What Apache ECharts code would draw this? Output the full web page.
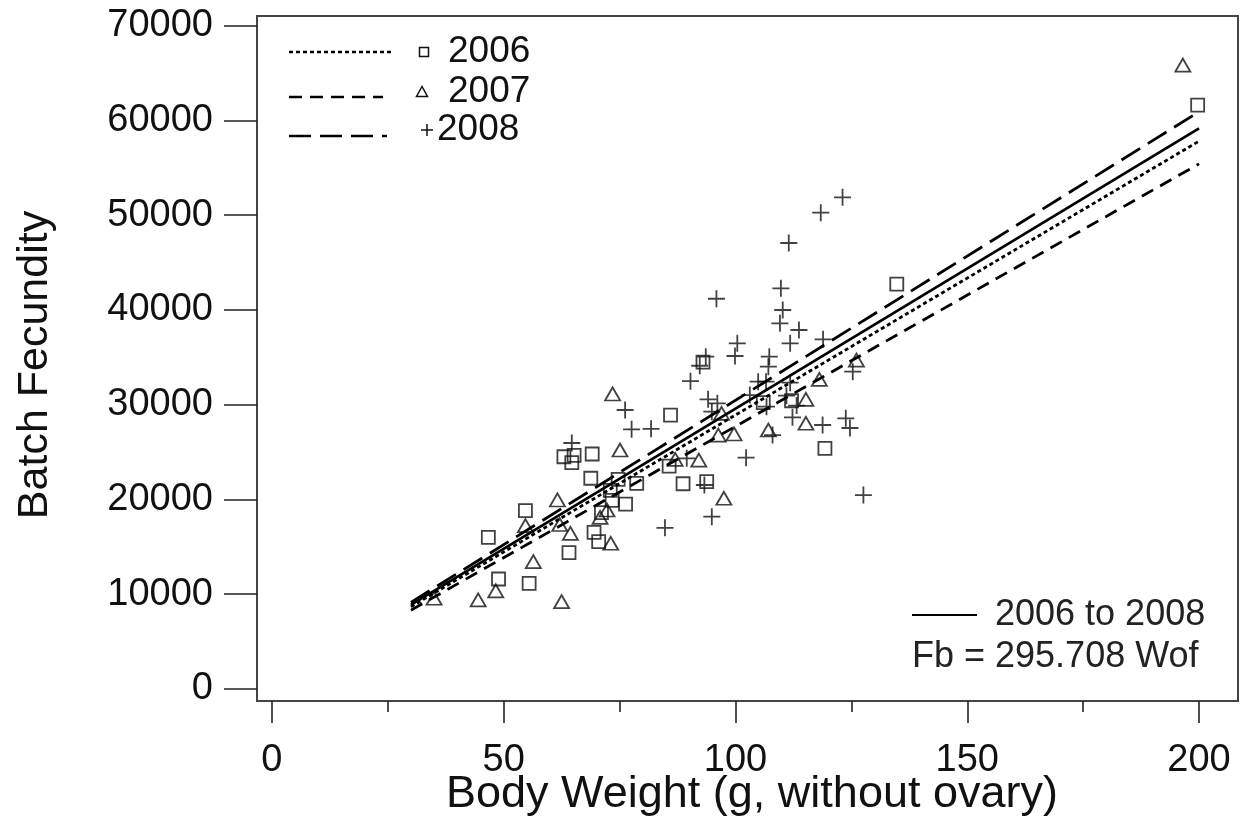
<!DOCTYPE html>
<html>
<head>
<meta charset="utf-8">
<script src="https://cdn.jsdelivr.net/npm/echarts@6/dist/echarts.min.js"></script>
<style>
  html, body { margin: 0; padding: 0; background: #fff; }
  #chart { width: 1248px; height: 825px; }
</style>
</head>
<body>
<div id="chart"></div>
<script>
// Body weight (g, without ovary) and batch fecundity, by sampling year
const fish2006 = [
  [63.0, 24500], [65.2, 24650], [64.7, 23870], [69.1, 24790], [86.0, 28900],
  [68.8, 22230], [74.7, 22120], [78.7, 21700], [88.7, 21650], [73.0, 20950],
  [73.4, 19900], [76.3, 19510], [71.1, 18600], [54.7, 18810], [69.5, 16530],
  [70.5, 15540], [46.7, 16000], [64.1, 14380], [48.9, 11600], [55.5, 11150],
  [134.8, 42720], [93.0, 34490], [106.0, 30200], [112.1, 30410], [119.3, 25390],
  [85.7, 23520], [93.8, 21870], [199.7, 61600]
];
const fish2007 = [
  [73.5, 31120], [75.1, 25210], [61.6, 19940], [72.3, 18880], [70.8, 18110],
  [54.7, 17230], [62.1, 17350], [64.4, 16420], [73.1, 15370], [56.4, 13430],
  [48.3, 10340], [44.5, 9390], [62.5, 9210], [35.0, 9570], [126.1, 34700],
  [118.1, 32670], [97.0, 29080], [115.2, 30560], [115.2, 28030], [107.1, 27320],
  [96.3, 26790], [99.7, 26900], [92.1, 24150], [87.0, 24230], [97.5, 20120],
  [196.5, 65820]
];
const fish2008 = [
  [76.2, 29430], [77.6, 27390], [81.8, 27450], [64.7, 25950], [84.8, 17000],
  [123.1, 51870], [118.4, 50250], [111.5, 47050], [95.9, 41170], [109.8, 42270],
  [110.2, 39980], [109.6, 38580], [113.7, 37870], [111.8, 36470], [118.9, 36890],
  [100.4, 36470], [99.9, 35130], [93.6, 35060], [92.3, 34100], [90.3, 32470],
  [107.3, 35060], [107.1, 34000], [125.3, 33470], [104.9, 32420], [106.6, 32420],
  [111.8, 32310], [94.1, 30560], [96.1, 30140], [94.9, 29250], [103.1, 31010],
  [111.0, 30940], [113.2, 29900], [106.7, 29780], [112.3, 28660], [118.8, 27850],
  [123.8, 28550], [124.7, 27530], [108.0, 26790], [102.3, 24400], [89.5, 24330],
  [93.3, 21520], [94.9, 18180], [127.6, 20460]
];

// Regression slopes (fecundity per gram, through the origin)
const slopeNames = ['2006', '2007', '2008', '2006 to 2008'];
const slopes = [289.0, 277.0, 304.5, 295.708];
const fitRange = [30, 200];

// Axis ticks
const xMajorTicks = [0, 50, 100, 150, 200];
const xMinorTicks = [25, 75, 125, 175];
const yTicks = [0, 10000, 20000, 30000, 40000, 50000, 60000, 70000];

const FONT = '"Liberation Sans", Arial, sans-serif';
const INK = '#111';
const MARK = '#111';

const lineDash = [[4, 3], [13, 8], [22, 9], null];

function fitLine(slope) {
  return fitRange.map(function (w) { return [w, w * slope]; });
}

const markerStyle = {
  color: 'rgba(0,0,0,0)',
  borderColor: MARK,
  borderWidth: 1.8
};

const plusPath = 'path://M0,8 L16,8 M8,0 L8,16';

const series = [
  {
    name: '2006', type: 'scatter', data: fish2006,
    symbol: 'rect', symbolSize: [13, 13],
    itemStyle: markerStyle, z: 3
  },
  {
    name: '2007', type: 'scatter', data: fish2007,
    symbol: 'triangle', symbolSize: [15, 13],
    itemStyle: markerStyle, z: 3
  },
  {
    name: '2008', type: 'scatter', data: fish2008,
    symbol: plusPath, symbolSize: [17, 17],
    itemStyle: { color: 'rgba(0,0,0,0)', borderColor: MARK, borderWidth: 1.8 }, z: 3
  }
];

slopes.forEach(function (b, i) {
  series.push({
    name: slopeNames[i] + ' fit',
    type: 'line',
    data: fitLine(b),
    showSymbol: false,
    symbol: 'none',
    silent: true,
    lineStyle: {
      color: '#000',
      width: 2.8,
      type: lineDash[i] || 'solid'
    },
    z: 4
  });
});

// Legend sample lines, markers and the pooled-fit note
const graphic = [];
const legendRows = [
  { y: 52, ty: 52, x2: 394, dash: lineDash[0], label: '2006', tx: 448, mx: 424 },
  { y: 97, ty: 92, x2: 383, dash: lineDash[1], label: '2007', tx: 448, mx: 422 },
  { y: 136, ty: 130, x2: 387, dash: lineDash[2], label: '2008', tx: 437, mx: 427 }
];
legendRows.forEach(function (r, i) {
  graphic.push({
    type: 'line', z: 10,
    shape: { x1: 289, y1: r.y, x2: r.x2, y2: r.y },
    style: { stroke: '#000', lineWidth: 2.6, lineDash: r.dash }
  });
  let marker;
  if (i === 0) {
    marker = { type: 'rect', shape: { x: r.mx - 4.5, y: r.ty - 4.5, width: 9, height: 9 } };
  } else if (i === 1) {
    marker = { type: 'polygon', shape: { points: [[r.mx, r.ty - 5.5], [r.mx - 5.5, r.ty + 4.5], [r.mx + 5.5, r.ty + 4.5]] } };
  } else {
    marker = { type: 'polyline', shape: { points: [[r.mx - 6, r.ty], [r.mx + 6, r.ty]] } };
    graphic.push({
      type: 'polyline', z: 10,
      shape: { points: [[r.mx, r.ty - 6], [r.mx, r.ty + 6]] },
      style: { stroke: MARK, lineWidth: 1.5, fill: null }
    });
  }
  marker.z = 10;
  marker.style = { stroke: MARK, lineWidth: 1.5, fill: null };
  graphic.push(marker);
  graphic.push({
    type: 'text', z: 10, x: r.tx, y: r.ty,
    style: { text: r.label, font: '37px ' + FONT, fill: INK, textAlign: 'left', textVerticalAlign: 'middle' }
  });
});

graphic.push({
  type: 'line', z: 10,
  shape: { x1: 912, y1: 615, x2: 977, y2: 615 },
  style: { stroke: '#000', lineWidth: 2.2 }
});
graphic.push({
  type: 'text', z: 10, x: 995, y: 615,
  style: { text: '2006 to 2008', font: '36px ' + FONT, fill: '#222', textAlign: 'left', textVerticalAlign: 'middle' }
});
graphic.push({
  type: 'text', z: 10, x: 912, y: 657,
  style: { text: 'Fb = ' + slopes[3].toFixed(3) + ' Wof', font: '36px ' + FONT, fill: '#222', textAlign: 'left', textVerticalAlign: 'middle' }
});

// Axis titles
graphic.push({
  type: 'text', z: 10, x: 752, y: 795,
  style: { text: 'Body Weight (g, without ovary)', font: '45px ' + FONT, fill: INK, textAlign: 'center', textVerticalAlign: 'middle' }
});
graphic.push({
  type: 'text', z: 10, x: 35, y: 365, rotation: Math.PI / 2,
  style: { text: 'Batch Fecundity', font: '43px ' + FONT, fill: INK, textAlign: 'center', textVerticalAlign: 'middle' }
});

const tickLine = { color: '#222', width: 1.6 };
const tickFont = { fontSize: 38, fontFamily: FONT, color: INK };
const plainNumber = function (v) { return String(v); };

const option = {
  backgroundColor: '#fff',
  animation: false,
  grid: {
    left: 257, top: 16, width: 981, height: 685,
    show: true, borderColor: '#444', borderWidth: 2, backgroundColor: '#fff'
  },
  xAxis: [
    {
      type: 'value', min: -3.2, max: 208.4, position: 'bottom',
      axisLine: { show: false, onZero: false },
      splitLine: { show: false },
      axisTick: { show: true, length: 22, lineStyle: tickLine, customValues: xMajorTicks },
      axisLabel: Object.assign({ show: true, margin: 41, customValues: xMajorTicks, formatter: plainNumber }, tickFont)
    },
    {
      type: 'value', min: -3.2, max: 208.4, position: 'bottom',
      axisLine: { show: false, onZero: false },
      splitLine: { show: false },
      axisTick: { show: true, length: 11, lineStyle: tickLine, customValues: xMinorTicks },
      axisLabel: { show: false }
    }
  ],
  yAxis: {
    type: 'value', min: -1270, max: 71000, position: 'left',
    axisLine: { show: false, onZero: false },
    splitLine: { show: false },
    axisTick: { show: true, length: 33, lineStyle: tickLine, customValues: yTicks },
    axisLabel: Object.assign({ show: true, margin: 44, customValues: yTicks, formatter: plainNumber }, tickFont)
  },
  graphic: graphic,
  series: series
};

const chart = echarts.init(document.getElementById('chart'), null, { renderer: 'canvas' });
chart.setOption(option);
</script>
</body>
</html>
